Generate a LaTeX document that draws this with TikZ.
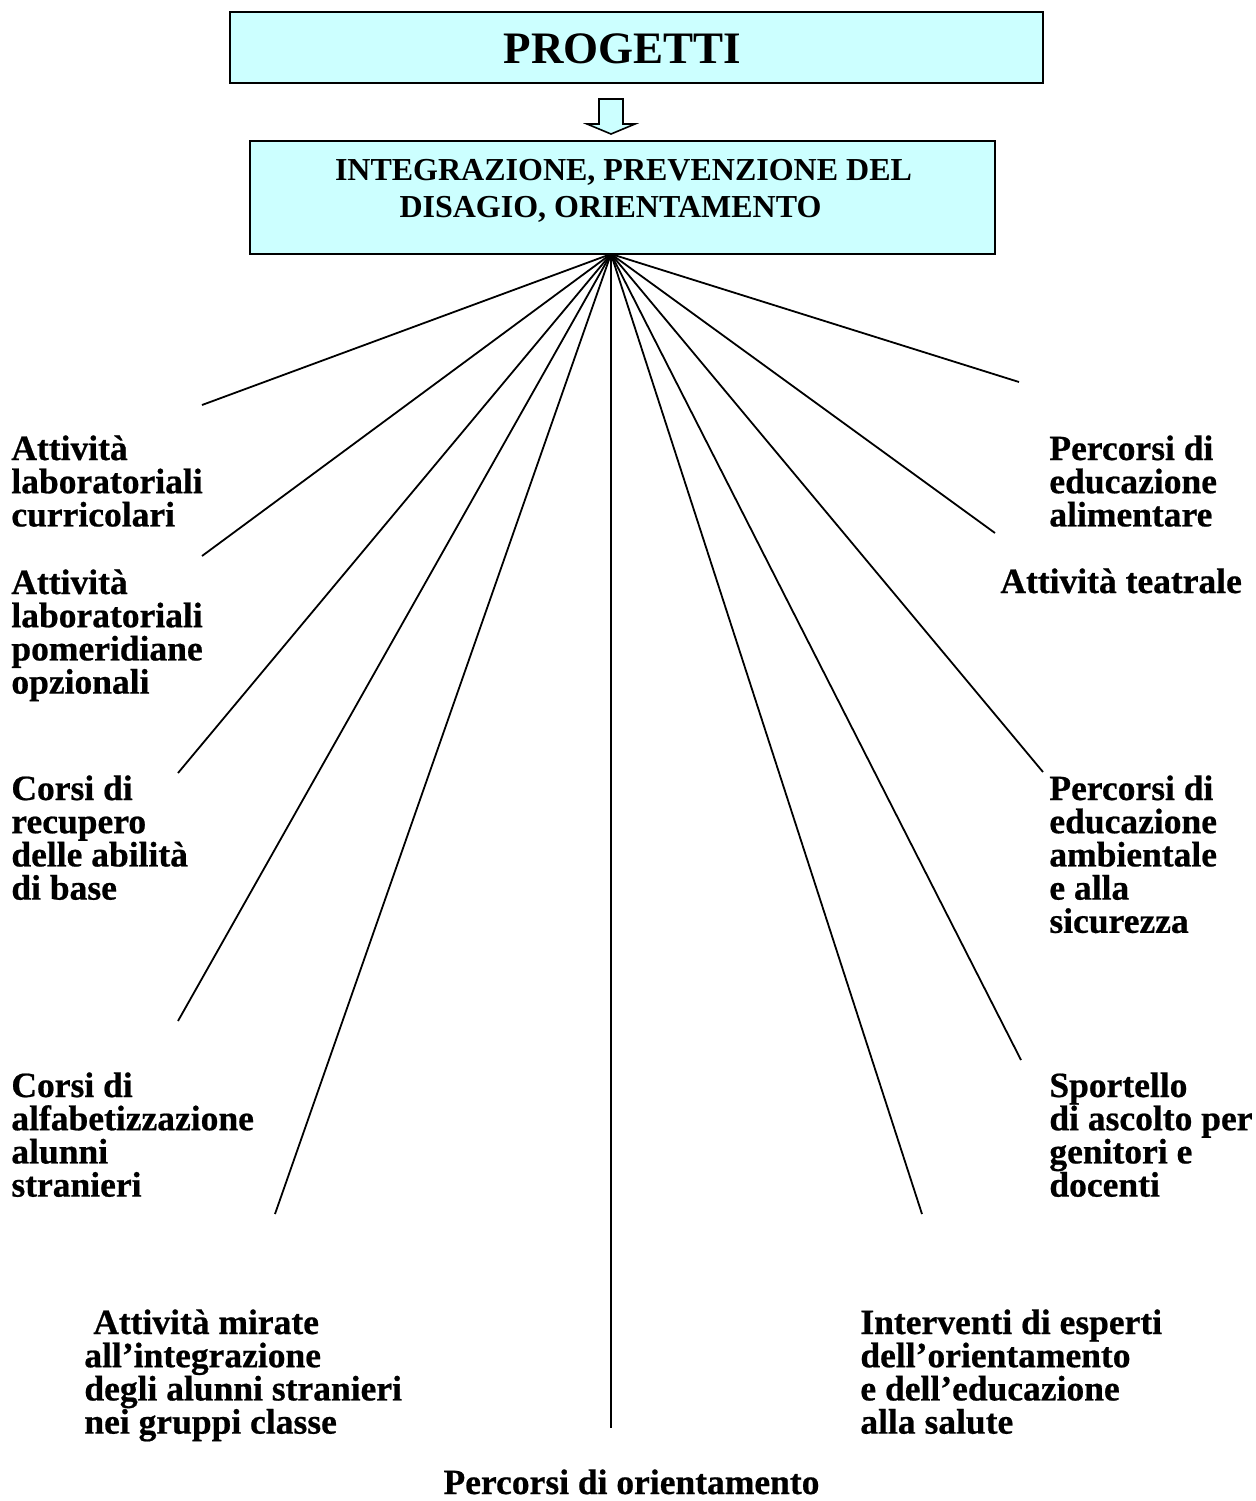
\documentclass[tikz,border=0pt]{standalone}
\usepackage{fontspec}
\setmainfont{Liberation Serif}
% slightly heavier bold for the item labels
\newfontfamily\labelfont{Liberation Serif}[BoldFeatures={FakeBold=0.6}]
\definecolor{boxcyan}{HTML}{CCFFFF}

% Left-aligned stack of lines with a fixed baseline pitch; the node's
% baseline is the baseline of the first line.
\newcommand\leftstack[1]{\vtop{\let\\\cr\lineskiplimit=-\maxdimen
  \halign{##\hfil\cr#1\crcr}}}
% Same, with each line centred.
\newcommand\midstack[1]{\vtop{\let\\\cr\lineskiplimit=-\maxdimen
  \halign{\hfil##\hfil\cr#1\crcr}}}

\begin{document}
\begin{tikzpicture}[x=0.5pt,y=-0.5pt,
  box/.style={draw=black, line width=1pt, fill=boxcyan, inner sep=0pt},
  title/.style={font=\fontsize{22.5pt}{27pt}\selectfont\bfseries, inner sep=0pt, anchor=base},
  subtitle/.style={font=\fontsize{16pt}{18.5pt}\selectfont\bfseries, inner sep=0pt, anchor=base},
  lbl/.style={font=\labelfont\fontsize{17.75pt}{16.6pt}\selectfont\bfseries, inner sep=0pt, anchor=base west},
  fan/.style={line width=0.9pt},
  blockarrow/.style={draw=black, line width=0.8pt, fill=boxcyan, line join=miter}]
\useasboundingbox (0,0) rectangle (1255,1501);

% header boxes
\node[box, minimum width=406.5pt, minimum height=35.5pt] (progetti) at (636.5,47.5) {};
\node[title] (progettiText) at (622.5,63) {PROGETTI};

\node[box, minimum width=372.5pt, minimum height=56.5pt] (integr) at (622.5,197.5) {};
\node[subtitle] (integrText) at (623.5,180.5)
  {\midstack{INTEGRAZIONE, PREVENZIONE DEL\\DISAGIO, ORIENTAMENTO\kern13pt}};

% hollow block arrow between the two boxes
\draw[blockarrow] (599,99) -- (623,99) -- (623,124) -- (635,124) -- (611,134)
  -- (587,124) -- (599,124) -- cycle;

% fan of lines from the lower box
\coordinate (hub) at (611,254);
\coordinate (e1) at (202,405);
\coordinate (e2) at (202,556);
\coordinate (e3) at (178,773);
\coordinate (e4) at (178,1021);
\coordinate (e5) at (275,1214);
\coordinate (e6) at (611,1428);
\coordinate (e7) at (922,1214);
\coordinate (e8) at (1021,1060);
\coordinate (e9) at (1043,772);
\coordinate (e10) at (995,533);
\coordinate (e11) at (1019,382);
\foreach \e in {e1,e2,e3,e4,e5,e6,e7,e8,e9,e10,e11}
  \draw[fan] (hub) -- (\e);

% left column
\node[lbl] (lab1) at (11,460) {\leftstack{Attività\\laboratoriali\\curricolari}};
\node[lbl] (lab2) at (11,594) {\leftstack{Attività\\laboratoriali\\pomeridiane\\opzionali}};
\node[lbl] (lab3) at (11,800) {\leftstack{Corsi di\\recupero\\delle abilità\\di base}};
\node[lbl] (lab4) at (11,1097) {\leftstack{Corsi di\\alfabetizzazione\\alunni\\stranieri}};
\node[lbl] (lab5) at (84,1334) {\leftstack{\ Attività mirate\\all’integrazione\\degli alunni stranieri\\nei gruppi classe}};

% bottom
\node[lbl, anchor=base] (lab6) at (631.5,1494) {Percorsi di orientamento};

% right column
\node[lbl] (lab7) at (860,1334) {\leftstack{Interventi di esperti\\dell’orientamento\\e dell’educazione\\alla salute}};
\node[lbl] (lab8) at (1049,1097) {\leftstack{Sportello\\di ascolto per\\genitori e\\docenti}};
\node[lbl] (lab9) at (1049,800) {\leftstack{Percorsi di\\educazione\\ambientale\\e alla\\sicurezza}};
\node[lbl] (lab10) at (1000,593) {Attività teatrale};
\node[lbl] (lab11) at (1049,460) {\leftstack{Percorsi di\\educazione\\alimentare}};
\end{tikzpicture}
\end{document}
